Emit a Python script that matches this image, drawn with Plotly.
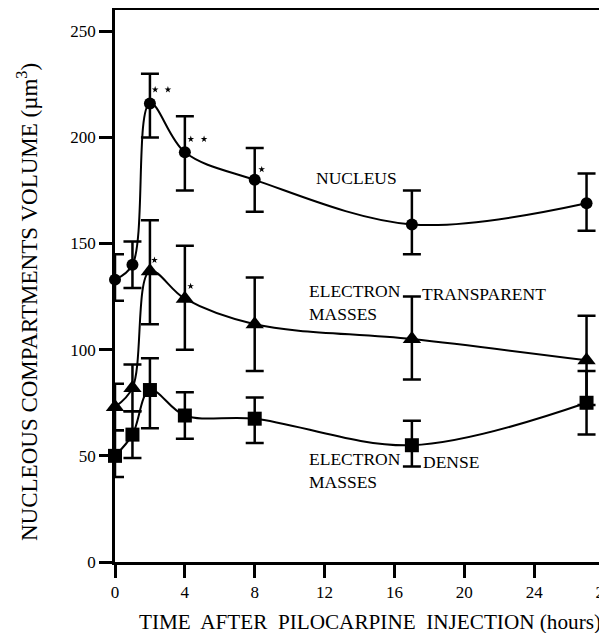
import plotly.graph_objects as go

# ---- data ----
hours = [0, 1, 2, 4, 8, 17, 27]

nucleus = [133, 140, 216, 193, 180, 159, 169]
nucleus_plus = [12, 11, 14, 17, 15, 16, 14]
nucleus_minus = [10, 11, 16, 18, 15, 14, 13]

transparent = [73, 82, 137, 124, 112, 105, 95]
transparent_plus = [11, 11, 24, 25, 22, 20, 21]
transparent_minus = [11, 11, 25, 24, 22, 19, 21]

dense = [50, 60, 81, 69, 67.5, 55, 75]
dense_plus = [12, 11, 15, 11, 10, 11.5, 15]
dense_minus = [10, 11, 18, 11, 11.5, 10, 15]

star_x = [2.3, 3.03, 4.34, 5.1, 8.4, 2.26, 4.33]
star_y = [222.5, 222.5, 199.2, 199.2, 184.9, 142.2, 129.9]

x_ticks = [0, 4, 8, 12, 16, 20, 24, 28]
y_ticks = [0, 50, 100, 150, 200, 250]

FONT = "Liberation Serif"

fig = go.Figure()

def add_series(y, plus, minus, symbol, size):
    fig.add_trace(go.Scatter(
        x=hours, y=y, mode="lines+markers",
        line=dict(color="black", width=2, shape="spline", smoothing=1),
        marker=dict(symbol=symbol, size=size, color="black"),
        error_y=dict(type="data", symmetric=False, array=plus, arrayminus=minus,
                     color="black", thickness=2.5, width=9),
        cliponaxis=False, showlegend=False,
    ))

add_series(nucleus, nucleus_plus, nucleus_minus, "circle", 12)
add_series(transparent, transparent_plus, transparent_minus, "triangle-up", 16)
add_series(dense, dense_plus, dense_minus, "square", 14)

fig.add_trace(go.Scatter(
    x=star_x, y=star_y, mode="markers",
    marker=dict(symbol="star", size=5, color="black"),
    cliponaxis=False, showlegend=False,
))

label_font = dict(family=FONT, size=17.5, color="black")
annotations = [
    dict(x=13.85, y=181, text="NUCLEUS", xanchor="center"),
    dict(x=10.97, y=122, text="ELECTRON<br>MASSES", xanchor="left", align="left"),
    dict(x=17.45, y=126.3, text="TRANSPARENT", xanchor="left"),
    dict(x=10.97, y=43, text="ELECTRON<br>MASSES", xanchor="left", align="left"),
    dict(x=17.54, y=47.1, text="DENSE", xanchor="left"),
]
for a in annotations:
    a.update(xref="x", yref="y", showarrow=False, font=label_font, yanchor="middle")

annotations.append(dict(
    xref="paper", yref="paper", x=0.5, y=0, xshift=10, yshift=-60,
    text="TIME  AFTER  PILOCARPINE  INJECTION (hours)", showarrow=False,
    font=dict(family=FONT, size=21.2, color="black"), xanchor="center", yanchor="middle"))
annotations.append(dict(
    xref="paper", yref="paper", x=0, y=0.5, xshift=-88, yshift=-16,
    text="NUCLEOUS COMPARTMENTS VOLUME (µm<sup>3</sup>)", showarrow=False, textangle=-90,
    font=dict(family=FONT, size=23, color="black"), xanchor="center", yanchor="middle"))

axis_common = dict(showline=True, linecolor="black", linewidth=2.5, mirror=True,
                   ticks="outside", ticklen=13, tickwidth=2.5, tickcolor="black",
                   showgrid=False, zeroline=False, automargin=False,
                   ticklabeloverflow="allow",
                   tickfont=dict(family=FONT, size=17, color="black"))

# page body has an 8px margin; compensate so the plot lands where the reference has it
fig.update_layout(
    width=599, height=625,
    margin=dict(l=107, r=3, t=2, b=71),
    paper_bgcolor="white", plot_bgcolor="white",
    xaxis=dict(range=[0, 28], tickvals=x_ticks, ticktext=[str(v) for v in x_ticks], **axis_common),
    yaxis=dict(range=[0, 260], tickvals=y_ticks, ticktext=[str(v) for v in y_ticks], **axis_common),
    annotations=annotations,
)

fig.write_html("out.html")
